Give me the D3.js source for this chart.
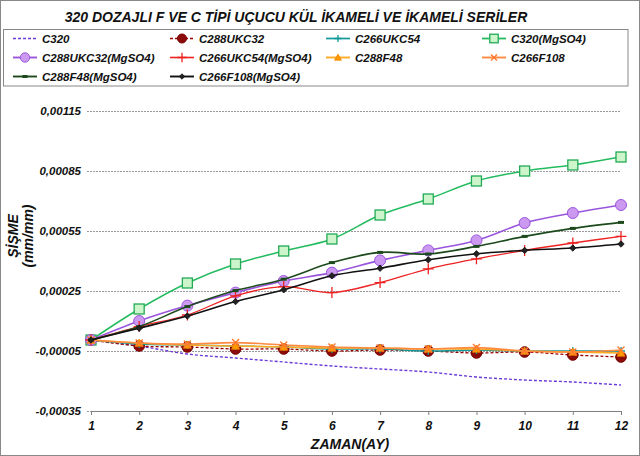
<!DOCTYPE html>
<html>
<head>
<meta charset="utf-8">
<script src="https://cdn.jsdelivr.net/npm/d3@7"></script>
<style>
  html, body { margin: 0; padding: 0; background: #fff; }
  svg text { font-family: "Liberation Sans", Arial, sans-serif; font-weight: bold; font-style: italic; }
</style>
</head>
<body>
<svg id="chart" width="640" height="456"></svg>
<script>
// ---- data ----
const months = [1,2,3,4,5,6,7,8,9,10,11,12];
const yTicks = [-0.00035, -0.00005, 0.00025, 0.00055, 0.00085, 0.00115];
const seriesNames = ["C320","C288UKC32","C266UKC54","C320(MgSO4)","C288UKC32(MgSO4)","C266UKC54(MgSO4)","C288F48","C266F108","C288F48(MgSO4)","C266F108(MgSO4)"];
const c320        = [0.000005,-0.000025,-0.000065,-0.000085,-0.000105,-0.000125,-0.00014,-0.000155,-0.00018,-0.000195,-0.000205,-0.00022];
const c288ukc32   = [0.000005,-0.000025,-0.00003,-0.00004,-0.00004,-0.00005,-0.000045,-0.00005,-0.00006,-0.000055,-0.00007,-0.00008];
const c266ukc54   = [0.000005,-0.000015,-0.00002,-0.000025,-0.00003,-0.00004,-0.00004,-0.00005,-0.000045,-0.00005,-0.00005,-0.00005];
const c320mg      = [0.000005,0.00016,0.00029,0.000385,0.00045,0.00051,0.00063,0.00071,0.0008,0.00085,0.00088,0.00092];
const c288ukc32mg = [0.000005,0.0001,0.000177,0.000242,0.0003,0.000342,0.000403,0.000453,0.000503,0.00059,0.00064,0.00068];
const c266ukc54mg = [0.000005,0.000072,0.00013,0.000226,0.000272,0.000242,0.000292,0.000361,0.000411,0.000453,0.00049,0.000523];
const c288f48     = [0.000005,-0.00001,-0.00002,-0.000025,-0.00003,-0.000035,-0.000035,-0.00004,-0.00004,-0.00005,-0.000055,-0.00006];
const c266f108    = [0.000005,-0.00001,-0.000015,-0.000008,-0.00002,-0.00003,-0.000035,-0.00004,-0.000033,-0.00005,-0.000055,-0.000045];
const c288f48mg   = [0.000005,0.000072,0.000172,0.000252,0.000309,0.000392,0.000443,0.000435,0.000473,0.000523,0.000563,0.000593];
const c266f108mg  = [0.000005,0.000064,0.000125,0.000197,0.000256,0.000326,0.000364,0.000406,0.000436,0.000453,0.000465,0.000485];
const seriesValues = [c320,c288ukc32,c266ukc54,c320mg,c288ukc32mg,c266ukc54mg,c288f48,c266f108,c288f48mg,c266f108mg];

// ---- styles ----
const styles = [
  {stroke:"#6b3bd8", width:1.4, dash:"3,2", marker:null},
  {stroke:"#990000", width:1.3, dash:"3,2", marker:"circle", mfill:"#8b0a0a", mstroke:"#7a0000", msize:5.3},
  {stroke:"#119999", width:1.4, dash:null, marker:"plus", mstroke:"#119999", msize:4},
  {stroke:"#22bb5e", width:1.5, dash:null, marker:"square", mfill:"#ccf5cc", mstroke:"#22aa55", msize:5},
  {stroke:"#9a55dd", width:1.6, dash:null, marker:"circle", mfill:"#cc99f0", mstroke:"#9a55dd", msize:5.5},
  {stroke:"#ee2222", width:1.3, dash:null, marker:"plus", mstroke:"#ee2222", msize:5.5},
  {stroke:"#ffaa22", width:1.6, dash:null, marker:"triangle", mfill:"#ff9900", mstroke:"#ee8800", msize:4},
  {stroke:"#ff8a40", width:1.6, dash:null, marker:"times", mstroke:"#ff7a30", msize:3.5},
  {stroke:"#1d4a1d", width:1.6, dash:null, marker:"dash", mstroke:"#1d4a1d", msize:3},
  {stroke:"#111111", width:1.6, dash:null, marker:"diamond", mfill:"#222", mstroke:"#111", msize:3.2}
];

const svg = d3.select("#chart");
svg.append("rect").attr("x",0.5).attr("y",0.5).attr("width",639).attr("height",455)
  .attr("fill","#fff").attr("stroke","#888");

const x = d3.scaleLinear().domain([1,12]).range([91,621]);
const y = d3.scaleLinear().domain([-0.00035,0.00115]).range([411,111]);

const loc = d3.formatLocale({decimal:",", thousands:".", grouping:[3], currency:["",""], minus:"-"});
const yFmt = loc.format(".5f");

// title
svg.append("text").attr("x",296).attr("y",22).attr("text-anchor","middle")
  .attr("font-size","14px").attr("fill","#111")
  .text("320 DOZAJLI F VE C TİPİ UÇUCU KÜL İKAMELİ VE İKAMELİ SERİLER");

// y gridlines + labels
const gy = svg.append("g").attr("transform","translate(87,0)")
  .call(d3.axisLeft(y).tickValues(yTicks).tickSize(-534).tickPadding(6).tickFormat(yFmt));
gy.select(".domain").remove();
gy.selectAll(".tick line").attr("stroke","#9a9a9a").attr("stroke-dasharray","2,1");
gy.selectAll(".tick text").attr("font-size","11.5px").attr("fill","#111")
  .attr("font-family","'Liberation Sans', Arial, sans-serif");

// x axis
const gx = svg.append("g").attr("transform","translate(0,411)")
  .call(d3.axisBottom(x).tickValues(months).tickSize(4).tickPadding(6).tickSizeOuter(0).tickFormat(d3.format("d")));
gx.select(".domain").attr("stroke","#808080");
gx.selectAll(".tick line").attr("stroke","#808080");
gx.selectAll(".tick text").attr("font-size","12px").attr("fill","#111")
  .attr("font-family","'Liberation Sans', Arial, sans-serif");

// axis titles
svg.append("text").attr("x",350).attr("y",449).attr("text-anchor","middle")
  .attr("font-size","14px").attr("fill","#111").text("ZAMAN(AY)");
const yt = svg.append("text").attr("transform","translate(18,236) rotate(-90)")
  .attr("text-anchor","middle").attr("font-size","14px").attr("fill","#111");
yt.append("tspan").attr("x",0).attr("dy",0).text("ŞİŞME");
yt.append("tspan").attr("x",0).attr("dy","1.1em").text("(mm/mm)");

// marker drawing
function drawMarker(g, st, cx, cy, scale) {
  const s = st.msize * (scale || 1);
  switch (st.marker) {
    case "circle":
      g.append("circle").attr("cx",cx).attr("cy",cy).attr("r",s)
        .attr("fill",st.mfill).attr("stroke",st.mstroke).attr("stroke-width",1);
      break;
    case "square":
      g.append("rect").attr("x",cx-s).attr("y",cy-s).attr("width",2*s).attr("height",2*s)
        .attr("fill",st.mfill).attr("stroke",st.mstroke).attr("stroke-width",1.3);
      break;
    case "triangle":
      g.append("path").attr("d",`M${cx},${cy-s}L${cx+s},${cy+s*0.8}L${cx-s},${cy+s*0.8}Z`)
        .attr("fill",st.mfill).attr("stroke",st.mstroke).attr("stroke-width",0.8);
      break;
    case "diamond":
      g.append("path").attr("d",`M${cx},${cy-s}L${cx+s},${cy}L${cx},${cy+s}L${cx-s},${cy}Z`)
        .attr("fill",st.mfill).attr("stroke",st.mstroke).attr("stroke-width",0.8);
      break;
    case "plus":
      g.append("path").attr("d",`M${cx-s},${cy}H${cx+s}M${cx},${cy-s}V${cy+s}`)
        .attr("stroke",st.mstroke).attr("stroke-width",1.3).attr("fill","none");
      break;
    case "times":
      g.append("path").attr("d",`M${cx-s},${cy-s}L${cx+s},${cy+s}M${cx+s},${cy-s}L${cx-s},${cy+s}`)
        .attr("stroke",st.mstroke).attr("stroke-width",1.4).attr("fill","none");
      break;
    case "dash":
      g.append("path").attr("d",`M${cx-s},${cy}H${cx+s}`)
        .attr("stroke",st.mstroke).attr("stroke-width",3).attr("fill","none");
      break;
  }
}

// series
const line = d3.line().x((d,i)=>x(months[i])).y(d=>y(d)).curve(d3.curveCatmullRom.alpha(0.5));
seriesValues.forEach((vals, k) => {
  const st = styles[k];
  const g = svg.append("g");
  g.append("path").attr("d", line(vals)).attr("fill","none")
    .attr("stroke", st.stroke).attr("stroke-width", st.width)
    .attr("stroke-dasharray", st.dash);
  if (st.marker) vals.forEach((v,i) => drawMarker(g, st, x(months[i]), y(v)));
});

// legend
const lg = svg.append("g");
lg.append("rect").attr("x",3.5).attr("y",29.5).attr("width",624.5).attr("height",56.5)
  .attr("fill","#fff").attr("stroke","#888");
const colX = [13,170,326,482];
const rowY = [38.5,57.5,76.5];
seriesNames.forEach((name,k) => {
  const st = styles[k];
  const cx = colX[k % 4], cy = rowY[Math.floor(k/4)];
  const g = lg.append("g");
  g.append("line").attr("x1",cx).attr("x2",cx+24).attr("y1",cy).attr("y2",cy)
    .attr("stroke",st.stroke).attr("stroke-width",st.width+0.3).attr("stroke-dasharray",st.dash);
  if (st.marker) drawMarker(g, st, cx+12, cy, 0.85);
  g.append("text").attr("x",cx+29).attr("y",cy+4.2).attr("font-size","11.5px").attr("fill","#111").text(name);
});
</script>
</body>
</html>
